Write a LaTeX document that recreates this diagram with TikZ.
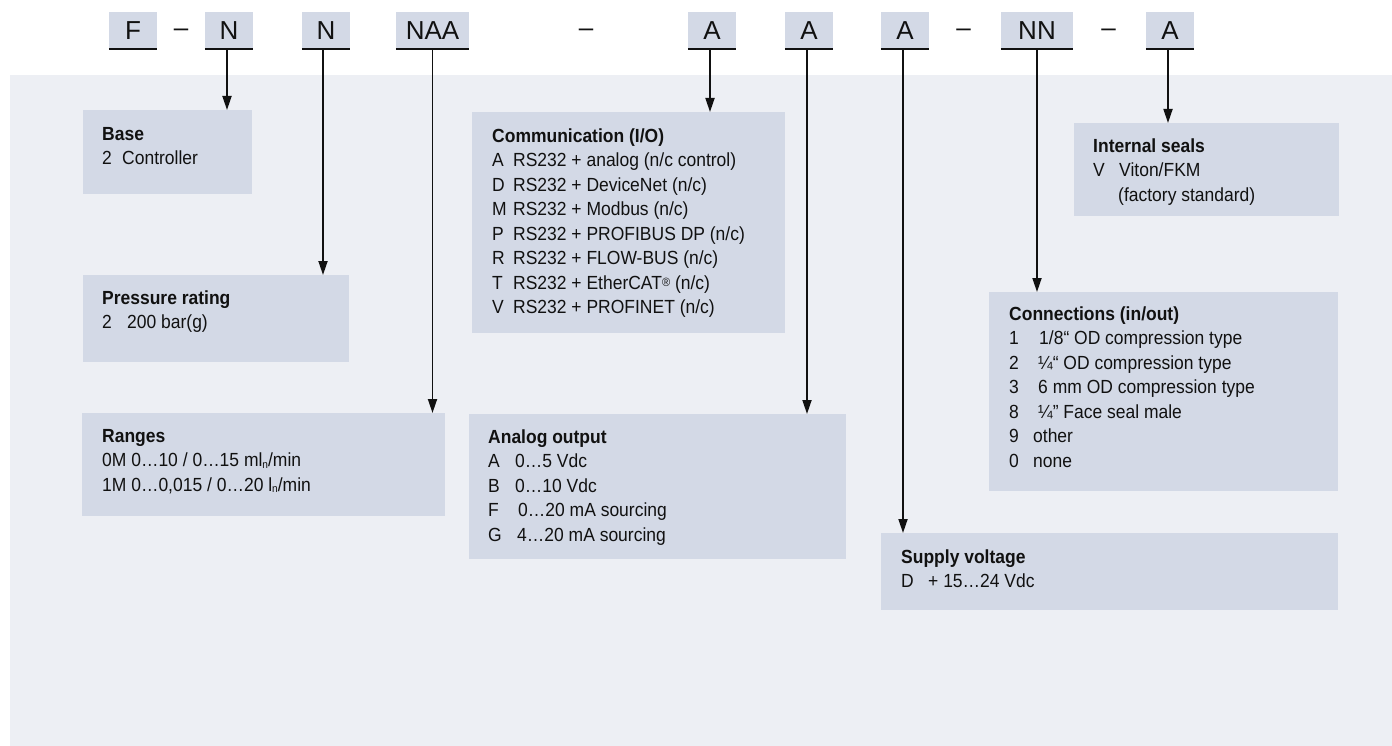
\documentclass[tikz,border=0pt]{standalone}
\usepackage{fontspec}
\setmainfont{Liberation Sans}
\newfontfamily\bodyfont[FakeStretch=0.92]{Liberation Sans}
\usetikzlibrary{arrows.meta}
\definecolor{panel}{HTML}{EDEFF4}
\definecolor{boxfill}{HTML}{D3D9E6}
\definecolor{ink}{HTML}{111111}
\tikzset{
  codebox/.style={fill=boxfill, inner sep=0pt, minimum height=37pt, text height=18.5pt, text depth=0pt, font=\fontsize{26}{30}\selectfont, text=ink},
  codedash/.style={inner sep=0pt, text height=18.5pt, text depth=0pt, font=\fontsize{26}{30}\selectfont, text=ink},
  underl/.style={line width=2pt, draw=ink},
  infobox/.style={fill=boxfill, inner sep=0pt, anchor=north west},
  infotxt/.style={inner sep=0pt, anchor=north west, align=left, text=ink, font=\bodyfont\fontsize{19}{24.5}\selectfont},
  arr/.style={line width=1.8pt, draw=ink, -{Triangle[length=14pt,width=9pt]}}
}
\newcommand{\hd}[1]{\rule{0pt}{16pt}\textbf{#1}}
\newcommand{\cl}[2]{\makebox[#1pt][l]{#2}}
\newcommand{\cdash}{\raisebox{3pt}{–}}
\newcommand{\subn}{{\fontsize{11}{11}\selectfont\raisebox{-1.5pt}{n}}}
\begin{document}
\begin{tikzpicture}[x=1pt,y=-1pt]
\useasboundingbox (0,0) rectangle (1392,746);
\fill[panel] (10,75) rectangle (1392,746);

% code row
\node[codebox, minimum width=48pt] (cF) at (133,30.5) {F};
\node[codedash] (d1) at (181,30.5) {\cdash};
\node[codebox, minimum width=48pt] (cN1) at (229,30.5) {N};
\node[codebox, minimum width=48pt] (cN2) at (326,30.5) {N};
\node[codebox, minimum width=73pt] (cNAA) at (432.5,30.5) {NAA};
\node[codedash] (d2) at (586,30.5) {\cdash};
\node[codebox, minimum width=48pt] (cA1) at (712,30.5) {A};
\node[codebox, minimum width=48pt] (cA2) at (809,30.5) {A};
\node[codebox, minimum width=48pt] (cA3) at (905,30.5) {A};
\node[codedash] (d3) at (963.5,30.5) {\cdash};
\node[codebox, minimum width=72pt] (cNN) at (1037,30.5) {NN};
\node[codedash] (d4) at (1108.5,30.5) {\cdash};
\node[codebox, minimum width=48pt] (cA4) at (1170,30.5) {A};
\foreach \n in {cF,cN1,cN2,cNAA,cA1,cA2,cA3,cNN,cA4}
  \draw[underl] (\n.south west) -- (\n.south east);

% boxes
\node[infobox, minimum width=169pt, minimum height=84pt] (base) at (83,110) {};
\node[infobox, minimum width=266pt, minimum height=87pt] (press) at (83,275) {};
\node[infobox, minimum width=363pt, minimum height=103pt] (ranges) at (82,413) {};
\node[infobox, minimum width=313pt, minimum height=221pt] (comm) at (472,112) {};
\node[infobox, minimum width=377pt, minimum height=145pt] (analog) at (469,414) {};
\node[infobox, minimum width=265pt, minimum height=93pt] (seals) at (1074,123) {};
\node[infobox, minimum width=349pt, minimum height=199pt] (conn) at (989,292) {};
\node[infobox, minimum width=457pt, minimum height=77pt] (supply) at (881,533) {};

% texts
\node[infotxt] (baset) at (102,124) {\hd{Base}\\ \cl{20}{2}Controller};
\node[infotxt] (presst) at (102,288) {\hd{Pressure rating}\\ \cl{25}{2}200 bar(g)};
\node[infotxt] (rangest) at (102,426) {\hd{Ranges}\\ 0M 0…10 / 0…15 ml\subn/min\\ 1M 0…0,015 / 0…20 l\subn/min};
\node[infotxt] (commt) at (492,126) {\hd{Communication (I/O)}\\
  \cl{21}{A}RS232 + analog (n/c control)\\
  \cl{21}{D}RS232 + DeviceNet (n/c)\\
  \cl{21}{M}RS232 + Modbus (n/c)\\
  \cl{21}{P}RS232 + PROFIBUS DP (n/c)\\
  \cl{21}{R}RS232 + FLOW-BUS (n/c)\\
  \cl{21}{T}RS232 + EtherCAT{\fontsize{12}{12}\selectfont\raisebox{2.5pt}{®}} (n/c)\\
  \cl{21}{V}RS232 + PROFINET (n/c)};
\node[infotxt] (analogt) at (488,427) {\hd{Analog output}\\
  \cl{27}{A}0…5 Vdc\\
  \cl{27}{B}0…10 Vdc\\
  \cl{30}{F}0…20 mA sourcing\\
  \cl{29}{G}4…20 mA sourcing};
\node[infotxt] (sealst) at (1093,136) {\hd{Internal seals}\\
  \cl{26}{V}Viton/FKM\\
  \hspace*{25pt}(factory standard)};
\node[infotxt] (connt) at (1009,304) {\hd{Connections (in/out)}\\
  \cl{30}{1}1/8“ OD compression type\\
  \cl{29}{2}¼“ OD compression type\\
  \cl{29}{3}6 mm OD compression type\\
  \cl{29}{8}¼” Face seal male\\
  \cl{24}{9}other\\
  \cl{24}{0}none};
\node[infotxt] (supplyt) at (901,547) {\hd{Supply voltage}\\
  \cl{27}{D}+ 15…24 Vdc};

% arrow start points
\coordinate (sN1) at ([xshift=-2pt]cN1.south);
\coordinate (sN2) at ([xshift=-3pt]cN2.south);
\coordinate (sNAA) at (cNAA.south);
\coordinate (sA1) at ([xshift=-2pt]cA1.south);
\coordinate (sA2) at ([xshift=-2pt]cA2.south);
\coordinate (sA3) at ([xshift=-2pt]cA3.south);
\coordinate (sNN) at (cNN.south);
\coordinate (sA4) at ([xshift=-2pt]cA4.south);

% arrows
\draw[arr] (sN1) -- (sN1 |- base.north);
\draw[arr] (sN2) -- (sN2 |- press.north);
\draw[arr] (sNAA) -- (sNAA |- ranges.north);
\draw[arr] (sA1) -- (sA1 |- comm.north);
\draw[arr] (sA2) -- (sA2 |- analog.north);
\draw[arr] (sA3) -- (sA3 |- supply.north);
\draw[arr] (sNN) -- (sNN |- conn.north);
\draw[arr] (sA4) -- (sA4 |- seals.north);
\end{tikzpicture}
\end{document}
